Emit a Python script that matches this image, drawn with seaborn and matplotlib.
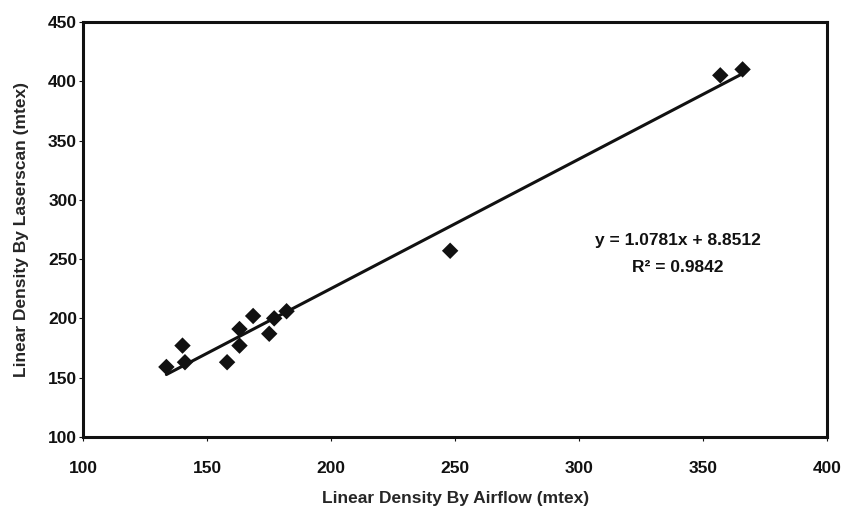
import numpy as np
import pandas as pd
import matplotlib
matplotlib.use("Agg")
import matplotlib.pyplot as plt
import seaborn as sns

# Values
airflow = [133.5, 140, 141, 158, 163, 163, 168.5, 175, 177, 182, 248, 357, 366]
laserscan = [159, 177, 163, 163, 191, 177, 202, 187, 200, 206, 257, 405, 410]
equation_text = "y = 1.0781x + 8.8512"
r2_text = "R² = 0.9842"

frame = pd.DataFrame({"airflow": airflow, "laserscan": laserscan})

sns.set_style("ticks")
plt.rcParams["font.family"] = ["Liberation Sans", "DejaVu Sans"]
plt.rcParams["font.weight"] = "bold"

fig = plt.figure(figsize=(8.42, 5.11), dpi=100)
ax = fig.add_axes([0.099, 0.145, 0.883, 0.812])

sns.regplot(x="airflow", y="laserscan", data=frame, ci=None, ax=ax,
            marker="D", color="black",
            scatter_kws={"s": 70, "color": "#111111", "edgecolor": "none", "alpha": 1},
            line_kws={"color": "#111111", "linewidth": 2.2})

ax.set_xlim(100, 400)
ax.set_ylim(100, 450)
ax.set_xticks(np.arange(100, 401, 50))
ax.set_yticks(np.arange(100, 451, 50))

for side in ["left", "right", "top", "bottom"]:
    ax.spines[side].set_visible(True)
    ax.spines[side].set_linewidth(2.2)
    ax.spines[side].set_color("#111111")

ax.tick_params(axis="both", direction="out", length=3, width=0.8,
               labelsize=12.5, colors="#111111")
ax.tick_params(axis="x", pad=14)
ax.tick_params(axis="y", pad=1.5)
for lab in ax.get_xticklabels() + ax.get_yticklabels():
    lab.set_fontweight("bold")

ax.set_xlabel("Linear Density By Airflow (mtex)", fontsize=12.5, fontweight="bold",
              labelpad=11)
ax.set_ylabel("Linear Density By Laserscan (mtex)", fontsize=12.5, fontweight="bold",
              labelpad=14)

ax.text(340, 266, equation_text, ha="center", va="center", fontsize=12.5,
        fontweight="bold", color="#111111")
ax.text(340, 243, r2_text, ha="center", va="center", fontsize=12.5,
        fontweight="bold", color="#111111")

fig.savefig("out.png", dpi=100)
